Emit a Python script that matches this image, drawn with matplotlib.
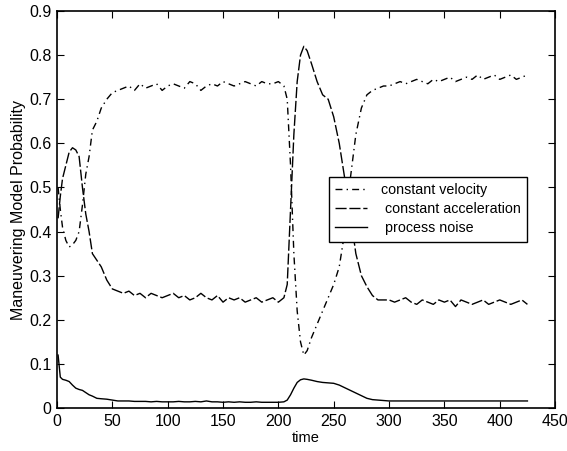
import matplotlib
matplotlib.use('Agg')
import matplotlib.pyplot as plt

plt.rcParams['font.family'] = ['Liberation Sans', 'DejaVu Sans']

t = [1, 3, 5, 8, 11, 14, 17, 20, 23, 26, 29, 32, 36, 40, 45, 50, 55,
     60, 65, 70, 75, 80, 85, 90, 95, 100, 105, 110, 115, 120, 125, 130,
     135, 140, 145, 150, 155, 160, 165, 170, 175, 180, 185, 190, 195, 200, 205,
     208, 211, 214, 217, 220, 223, 226, 230, 235, 240, 245, 250, 255, 260,
     265, 270, 275, 280, 285, 290, 295,
     300, 305, 310, 315, 320, 325, 330, 335, 340, 345, 350, 355, 360, 365,
     370, 375, 380, 385, 390, 395, 400, 405, 410, 415, 420, 425]

const_vel = [0.50, 0.45, 0.41, 0.38, 0.365, 0.37, 0.38, 0.40, 0.46, 0.53, 0.57, 0.63, 0.65, 0.68, 0.70, 0.715, 0.72,
             0.725, 0.73, 0.72, 0.735, 0.725, 0.73, 0.735, 0.72, 0.73, 0.735, 0.73, 0.725, 0.74, 0.735, 0.72,
             0.73, 0.735, 0.73, 0.74, 0.735, 0.73, 0.735, 0.74, 0.735, 0.73, 0.74, 0.735, 0.735, 0.74, 0.73,
             0.70, 0.55, 0.35, 0.22, 0.15, 0.12, 0.13, 0.16, 0.19, 0.22, 0.25, 0.28, 0.32, 0.40,
             0.52, 0.62, 0.68, 0.71, 0.72, 0.725, 0.73,
             0.73, 0.735, 0.74, 0.735, 0.74, 0.745, 0.74, 0.735, 0.745, 0.74, 0.745, 0.75, 0.74, 0.745,
             0.75, 0.745, 0.755, 0.745, 0.75, 0.755, 0.745, 0.75, 0.755, 0.745, 0.75, 0.755]

const_acc = [0.43, 0.48, 0.52, 0.55, 0.58, 0.59, 0.585, 0.57, 0.50, 0.44, 0.40, 0.35, 0.335, 0.32, 0.29, 0.27, 0.265,
             0.26, 0.265, 0.255, 0.26, 0.25, 0.26, 0.255, 0.25, 0.255, 0.26, 0.25, 0.255, 0.245, 0.25, 0.26,
             0.25, 0.245, 0.255, 0.24, 0.25, 0.245, 0.25, 0.24, 0.245, 0.25, 0.24, 0.245, 0.25, 0.24, 0.25,
             0.28, 0.45, 0.62, 0.74, 0.80, 0.82, 0.81, 0.78, 0.74, 0.71, 0.70, 0.66, 0.60, 0.52,
             0.44, 0.35, 0.30, 0.275, 0.255, 0.245, 0.245,
             0.245, 0.24, 0.245, 0.25, 0.24, 0.235, 0.245, 0.24, 0.235, 0.245, 0.24, 0.245, 0.23, 0.245,
             0.24, 0.235, 0.24, 0.245, 0.235, 0.24, 0.245, 0.24, 0.235, 0.24, 0.245, 0.235]

proc_noise = [0.12, 0.07, 0.065, 0.063, 0.06, 0.052, 0.045, 0.042, 0.04, 0.035, 0.03, 0.027, 0.022, 0.021, 0.02, 0.018, 0.016,
              0.016, 0.016, 0.015, 0.015, 0.015, 0.014, 0.015, 0.014, 0.014, 0.014, 0.015, 0.014, 0.014, 0.015, 0.014,
              0.016, 0.014, 0.014, 0.013, 0.014, 0.013, 0.014, 0.013, 0.013, 0.014, 0.013, 0.013, 0.013, 0.013, 0.014,
              0.018, 0.03, 0.045, 0.058, 0.064, 0.066, 0.065, 0.063, 0.06, 0.058, 0.057, 0.056, 0.052, 0.046,
              0.04, 0.034, 0.028, 0.022, 0.019, 0.018, 0.017,
              0.016, 0.016, 0.016, 0.016, 0.016, 0.016, 0.016, 0.016, 0.016, 0.016, 0.016, 0.016, 0.016, 0.016,
              0.016, 0.016, 0.016, 0.016, 0.016, 0.016, 0.016, 0.016, 0.016, 0.016, 0.016, 0.016]

fig = plt.figure(figsize=(5.67, 4.51), dpi=100)
ax = fig.add_axes([0.1005, 0.0953, 0.8785, 0.8803])

ax.plot(t, const_vel, color='k', lw=1, dashes=(5, 3, 1, 3), label='constant velocity')
ax.plot(t, const_acc, color='k', lw=1, dashes=(8, 2), label=' constant acceleration')
ax.plot(t, proc_noise, color='k', lw=1, label=' process noise')

ax.set_xlim(0, 450)
ax.set_ylim(0, 0.9)
ax.set_xticks(range(0, 451, 50))
ax.set_yticks([0, 0.1, 0.2, 0.3, 0.4, 0.5, 0.6, 0.7, 0.8, 0.9])
ax.set_yticklabels(['0', '0.1', '0.2', '0.3', '0.4', '0.5', '0.6', '0.7', '0.8', '0.9'])
ax.tick_params(direction='in', top=True, right=True, labelsize=11.5, length=5, pad=4)
for s in ax.spines.values():
    s.set_linewidth(1.2)

ax.set_xlabel('time', fontsize=10.5, labelpad=2)
ax.set_ylabel('Maneuvering Model Probability', fontsize=11.5, labelpad=2)

leg = ax.legend(loc='upper left', bbox_to_anchor=(0.546, 0.582), fontsize=10.3,
                fancybox=False, edgecolor='k', framealpha=1, handlelength=2.2,
                borderpad=0.45, labelspacing=0.35, handletextpad=1.0, borderaxespad=0)
leg.get_frame().set_linewidth(1)

fig.savefig('out.png', dpi=100)
